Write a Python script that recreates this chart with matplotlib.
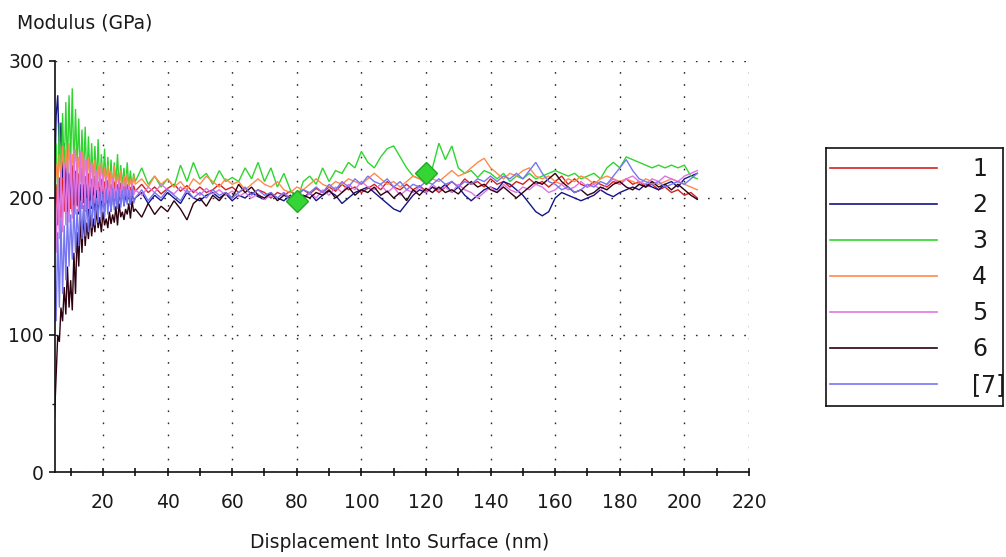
import numpy as np
import matplotlib
matplotlib.use("Agg")
import matplotlib.pyplot as plt

plt.rcParams["font.family"] = ["DejaVu Sans"]

# Depth sampling: fine steps near the surface, coarser deeper in.
DEPTH = np.concatenate([np.arange(5.0, 30.0, 0.5), np.arange(30.0, 205.0, 2.0)])

LABELS = ["1", "2", "3", "4", "5", "6", "[7]"]
COLORS = ["#d42020", "#141488", "#2fd52f", "#ff8a4a", "#e274e2", "#2e0010", "#7676f2"]

# Modulus (GPa) for each indent, one value per DEPTH sample
MOD_1 = [
    190, 210, 180, 215, 185, 220, 190, 222, 188, 218,
    192, 224, 190, 220, 194, 218, 192, 222, 196, 216,
    194, 218, 198, 214, 196, 216, 199, 212, 197, 214,
    200, 212, 198, 213, 200, 210, 199, 212, 202, 210,
    200, 211, 203, 209, 201, 210, 203, 208, 202, 209,
    205, 210, 204, 208, 203, 207, 210, 205, 209, 204,
    208, 204, 206, 210, 206, 208, 204, 207, 203, 206,
    204, 200, 204, 202, 205, 202, 206, 203, 207, 204,
    208, 205, 210, 206, 208, 204, 207, 210, 206, 212,
    208, 206, 210, 206, 209, 205, 208, 204, 208, 212,
    208, 214, 210, 212, 208, 214, 210, 212, 208, 212,
    210, 214, 210, 212, 208, 212, 216, 210, 214, 210,
    208, 212, 210, 208, 212, 210, 214, 210, 212, 208,
    210, 206, 208, 204, 206, 202, 204, 200,
]
MOD_2 = [
    200, 260, 275, 230, 255, 215, 240, 200, 225, 195,
    215, 190, 222, 195, 218, 188, 210, 192, 215, 190,
    212, 186, 208, 192, 214, 190, 206, 188, 210, 192,
    205, 190, 208, 194, 204, 190, 206, 195, 210, 192,
    204, 196, 208, 194, 202, 197, 206, 195, 203, 198,
    200, 204, 196, 202, 198, 204, 200, 196, 204, 200,
    198, 202, 204, 200, 203, 198, 202, 200, 204, 201,
    199, 203, 200, 198, 202, 197, 200, 204, 198, 202,
    205, 202, 196, 200, 204, 206, 208, 204, 200, 196,
    192, 190, 196, 202, 206, 204, 208, 206, 210, 204,
    208, 202, 198, 202, 206, 208, 206, 212, 210, 206,
    202, 196, 190, 187, 190, 200, 204, 202, 200, 198,
    200, 202, 206, 203, 201, 204, 206, 208, 206, 210,
    208, 206, 210, 212, 208, 214, 216, 218,
]
MOD_3 = [
    195, 240, 200, 255, 210, 262, 215, 270, 220, 275,
    225, 280, 218, 265, 222, 258, 212, 250, 215, 252,
    210, 245, 212, 240, 208, 238, 210, 243, 208, 232,
    210, 236, 207, 230, 209, 228, 206, 226, 210, 232,
    207, 224, 209, 222, 206, 226, 208, 220, 207, 218,
    212, 222, 210, 216, 208, 214, 208, 224, 212, 226,
    214, 218, 210, 220, 212, 215, 212, 222, 214, 226,
    212, 222, 208, 218, 206, 198, 212, 216, 210, 222,
    212, 220, 218, 226, 222, 234, 226, 222, 230, 236,
    238, 230, 222, 216, 214, 218, 222, 240, 228, 238,
    222, 218, 220, 215, 220, 218, 214, 218, 212, 216,
    214, 218, 214, 216, 218, 220, 218, 216, 218, 214,
    216, 218, 214, 222, 226, 222, 230, 228, 226, 224,
    222, 224, 222, 224, 222, 224, 216, 214,
]
MOD_4 = [
    205, 225, 210, 232, 215, 238, 212, 235, 218, 240,
    214, 232, 220, 236, 212, 230, 216, 234, 210, 228,
    214, 230, 208, 226, 212, 228, 206, 224, 210, 226,
    207, 222, 210, 224, 206, 220, 209, 224, 205, 218,
    208, 220, 204, 216, 208, 218, 205, 214, 208, 216,
    210, 214, 208, 216, 210, 214, 208, 212, 206, 214,
    210, 216, 212, 208, 214, 210, 212, 206, 210, 214,
    210, 208, 212, 206, 204, 208, 206, 210, 214, 210,
    208, 212, 210, 214, 212, 210, 214, 218, 214, 210,
    212, 208, 212, 216, 214, 210, 214, 212, 216, 220,
    216, 218, 222, 226, 229, 222, 218, 214, 218, 216,
    220, 222, 216, 214, 216, 212, 210, 214, 212, 216,
    214, 210, 214, 216, 214, 212, 214, 212, 210, 214,
    212, 210, 212, 214, 212, 210, 208, 206,
]
MOD_5 = [
    200, 160, 215, 170, 220, 175, 225, 180, 228, 182,
    232, 185, 236, 188, 230, 190, 234, 192, 232, 190,
    228, 192, 226, 194, 224, 196, 220, 195, 222, 198,
    218, 196, 216, 198, 214, 197, 215, 199, 212, 198,
    214, 200, 210, 199, 212, 201, 209, 200, 211, 202,
    206, 202, 208, 204, 210, 206, 203, 208, 204, 206,
    202, 207, 203, 206, 202, 205, 201, 204, 200, 203,
    199, 202, 200, 204, 200, 202, 198, 204, 200, 206,
    202, 208, 204, 210, 206, 212, 208, 206, 210, 204,
    208, 202, 206, 204, 208, 204, 210, 206, 208, 204,
    210, 206, 204, 200, 204, 208, 204, 210, 206, 204,
    208, 206, 210, 208, 204, 206, 210, 206, 208, 212,
    208, 210, 206, 210, 214, 210, 214, 216, 212, 210,
    214, 212, 216, 214, 212, 216, 218, 220,
]
MOD_6 = [
    40, 70, 100, 95, 120, 110, 135, 115, 150, 120,
    140, 118, 160, 130, 175, 150, 185, 160, 190, 165,
    182, 170, 188, 172, 185, 175, 192, 178, 186, 175,
    190, 180, 185, 178, 190, 181, 188, 182, 194, 180,
    196, 186, 190, 184, 192, 188, 196, 185, 198, 190,
    192, 186, 196, 188, 194, 190, 198, 192, 184, 196,
    200, 194, 202, 198, 204, 200, 210, 204, 208, 202,
    200, 204, 198, 202, 200, 198, 202, 200, 204, 202,
    206, 200, 204, 208, 202, 206, 204, 208, 202, 205,
    200, 204, 198, 206, 202, 207, 204, 208, 204, 206,
    203, 208, 212, 208, 210, 206, 204, 208, 204, 200,
    204, 208, 212, 210, 214, 218, 212, 208, 204, 206,
    202, 204, 208, 206, 210, 212, 208, 206, 210, 208,
    212, 208, 210, 206, 210, 206, 202, 199,
]
MOD_7 = [
    150, 110, 175, 120, 185, 130, 180, 140, 190, 150,
    188, 155, 195, 160, 192, 165, 198, 170, 195, 172,
    200, 175, 198, 178, 202, 180, 200, 182, 205, 184,
    203, 186, 206, 188, 204, 190, 207, 191, 205, 192,
    208, 193, 206, 194, 208, 195, 206, 195, 207, 196,
    200, 206, 198, 204, 200, 206, 202, 198, 206, 200,
    204, 200, 206, 202, 204, 200, 204, 208, 202, 206,
    202, 204, 200, 204, 198, 202, 206, 204, 208, 204,
    210, 206, 212, 208, 214, 210, 216, 212, 210, 214,
    208, 212, 206, 210, 208, 212, 210, 214, 210, 212,
    208, 212, 210, 214, 212, 216, 212, 216, 214, 218,
    214, 220, 226, 218, 212, 210, 206, 208, 204, 206,
    210, 208, 212, 210, 216, 222, 228, 220, 214, 212,
    210, 212, 208, 210, 212, 210, 214, 218,
]
SERIES = [MOD_1, MOD_2, MOD_3, MOD_4, MOD_5, MOD_6, MOD_7]

# Highlighted points on indent 3
MARKER_DEPTHS = [80, 120]

X_TICKS = [20, 40, 60, 80, 100, 120, 140, 160, 180, 200, 220]
X_MINOR = [10, 30, 50, 70, 90, 110, 130, 150, 170, 190, 210]
Y_TICKS = [0, 100, 200, 300]
Y_MINOR = [50, 150, 250]

W, H = 1006, 557
fig = plt.figure(figsize=(W / 100, H / 100), dpi=100)
fig.patch.set_facecolor("white")

ax = fig.add_axes([55 / W, 1 - 472 / H, (749 - 55) / W, (472 - 61) / H])
ax.set_xlim(5.15, 220)
ax.set_ylim(0, 300)
ax.set_axisbelow(True)

for vals, color in zip(SERIES, COLORS):
    ax.plot(DEPTH, vals, color=color, lw=1.0, solid_joinstyle="miter")

green = np.asarray(MOD_3, dtype=float)
mk_vals = [green[np.argmin(np.abs(DEPTH - d))] for d in MARKER_DEPTHS]
ax.plot(MARKER_DEPTHS, mk_vals, linestyle="none", marker="D", ms=11,
        color="#36d536", mec="#24a824", mew=1.0, zorder=5)

for side in ("top", "right"):
    ax.spines[side].set_visible(False)
for side in ("left", "bottom"):
    ax.spines[side].set_linewidth(1.2)
    ax.spines[side].set_color("#111111")

ax.set_xticks(X_TICKS)
ax.set_xticks(X_MINOR, minor=True)
ax.set_yticks(Y_TICKS)
ax.set_yticks(Y_MINOR, minor=True)
ax.tick_params(axis="x", which="both", direction="inout", length=6, width=1.2,
               color="#111111", labelsize=13.5, pad=12, labelcolor="#1a1a1a")
ax.tick_params(axis="x", which="minor", labelbottom=False)
ax.tick_params(axis="y", which="major", direction="out", length=4, width=1.2,
               color="#111111", labelsize=13.5, pad=4, labelcolor="#1a1a1a")
ax.tick_params(axis="y", which="minor", direction="out", length=2.5, width=1.0,
               color="#111111")

ax.grid(True, which="major", color="#2a2a2a", linestyle=(0, (1.2, 7.5)),
        linewidth=1.0)

fig.text(17 / W, 1 - 23 / H, "Modulus (GPa)", ha="left", va="center",
         fontsize=13.5, color="#1a1a1a")
fig.text(400 / W, 1 - 542 / H, "Displacement Into Surface (nm)", ha="center",
         va="center", fontsize=13.5, color="#1a1a1a")

# Legend box
lg = fig.add_axes([826 / W, 1 - 406 / H, (1003 - 826) / W, (406 - 148) / H])
lg.set_xlim(0, 177)
lg.set_ylim(258, 0)
lg.set_xticks([])
lg.set_yticks([])
for s in lg.spines.values():
    s.set_linewidth(1.2)
    s.set_color("#111111")
for i, (lab, color) in enumerate(zip(LABELS, COLORS)):
    yy = 20 + 36 * i
    lg.plot([4, 111], [yy, yy], color=color, lw=1.2)
    lg.text(146, yy + 1, lab, ha="left", va="center", fontsize=17,
            color="#1a1a1a", clip_on=False)

fig.savefig("out.png", dpi=100, facecolor="white")
